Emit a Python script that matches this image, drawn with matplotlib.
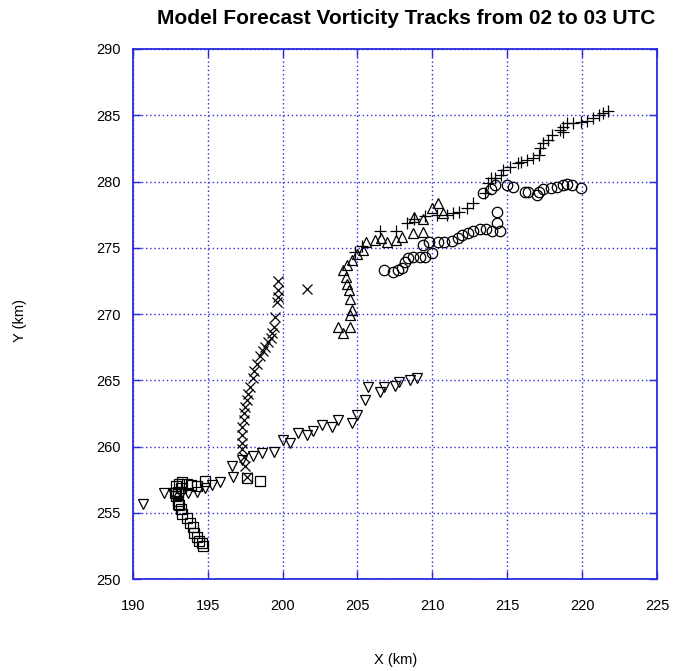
import matplotlib
matplotlib.use("Agg")
import matplotlib.pyplot as plt

title = "Model Forecast Vorticity Tracks from 02 to 03 UTC"
x_label = "X (km)"
y_label = "Y (km)"
x_ticks = [190, 195, 200, 205, 210, 215, 220, 225]
y_ticks = [250, 255, 260, 265, 270, 275, 280, 285, 290]

# Squares track
sq_x = [194.7, 194.6, 194.4, 194.3, 194.1, 194.0, 193.8, 193.6, 193.3, 193.2, 193.1, 193.0,
        192.9, 193.0, 193.2, 193.1, 192.9, 192.8, 193.0, 193.3, 193.6, 193.9, 194.3, 194.8,
        197.6, 198.5]
sq_y = [252.5, 252.7, 252.9, 253.2, 253.5, 253.9, 254.2, 254.6, 254.9, 255.3, 255.6, 255.9,
        256.3, 256.6, 256.9, 257.2, 257.0, 256.5, 255.7, 257.3, 257.2, 257.1, 257.0, 257.4,
        257.6, 257.4]

# Down-triangle track
dtri_x = [190.7, 192.1, 192.7, 193.2, 193.7, 194.3, 194.8, 195.3, 195.8, 196.7, 196.6, 197.3,
          198.0, 198.6, 199.4, 200.0, 200.5, 201.0, 201.6, 202.0, 202.6, 203.3, 203.7, 204.6,
          205.0, 205.5, 205.7, 206.5, 206.8, 207.5, 207.8, 208.5, 209.0]
dtri_y = [255.7, 256.5, 256.5, 256.4, 256.5, 256.6, 256.9, 257.1, 257.3, 257.7, 258.5, 259.0,
          259.3, 259.5, 259.6, 260.5, 260.3, 261.0, 260.9, 261.2, 261.6, 261.5, 262.0, 261.8,
          262.4, 263.5, 264.5, 264.1, 264.5, 264.6, 264.9, 265.0, 265.2]

# X-marker track
xm_x = [197.6, 197.5, 197.4, 197.3, 197.3, 197.3, 197.3, 197.4, 197.4, 197.5, 197.6, 197.7,
        197.8, 198.0, 198.1, 198.3, 198.5, 198.7, 198.8, 199.0, 199.2, 199.3, 199.4, 199.5,
        199.6, 199.7, 199.7, 199.7, 201.6]
xm_y = [257.7, 258.5, 259.2, 259.8, 260.3, 260.9, 261.5, 262.0, 262.5, 263.0, 263.5, 264.0,
        264.5, 265.2, 265.7, 266.2, 266.8, 267.2, 267.5, 267.9, 268.2, 268.6, 269.0, 269.8,
        270.9, 271.3, 271.8, 272.5, 271.9]

# Up-triangle track
utri_x = [203.7, 204.0, 204.5, 204.5, 204.6, 204.5, 204.4, 204.3, 204.2, 204.0, 204.3, 204.6,
          205.0, 205.4, 205.6, 206.2, 206.6, 207.0, 207.6, 208.0, 208.7, 209.4, 208.8, 209.4,
          210.0, 210.4, 210.7]
utri_y = [269.0, 268.6, 269.0, 269.9, 270.3, 271.1, 271.8, 272.3, 272.8, 273.3, 273.7, 274.1,
          274.5, 274.8, 275.4, 275.6, 275.7, 275.4, 275.6, 275.8, 276.1, 276.2, 277.3, 277.2,
          278.0, 278.4, 277.6]

# Plus track
pl_x = [204.8, 205.3, 206.5, 207.6, 208.3, 208.8, 209.5, 210.3, 211.0, 211.4, 211.8, 212.3,
        212.7, 213.5, 213.7, 213.9, 214.2, 214.6, 214.7, 215.2, 215.7, 215.9, 216.3, 216.7,
        217.1, 217.2, 217.4, 217.7, 218.0, 218.5, 218.7, 218.7, 219.0, 219.4, 219.9, 220.3,
        220.7, 221.1, 221.4, 221.7]
pl_y = [274.7, 275.1, 276.3, 276.3, 276.9, 277.2, 277.4, 277.5, 277.5, 277.6, 277.7, 278.0,
        278.4, 279.1, 279.9, 280.3, 280.3, 280.5, 280.9, 281.1, 281.4, 281.5, 281.6, 281.8,
        282.0, 282.5, 282.9, 283.1, 283.5, 283.9, 284.1, 283.7, 284.4, 284.4, 284.5, 284.6,
        284.8, 285.0, 285.2, 285.3]

# Circle track
ci_x = [206.8, 207.4, 207.7, 208.0, 208.2, 208.4, 208.7, 209.2, 209.5, 210.0, 209.4, 209.8,
        210.4, 210.8, 211.3, 211.7, 212.0, 212.4, 212.7, 213.2, 213.6, 214.0, 214.5, 214.3,
        214.3, 213.4, 213.9, 214.2, 215.0, 215.4, 216.2, 216.4, 217.0, 217.1, 217.4, 217.9,
        218.3, 218.7, 219.0, 219.3, 219.9]
ci_y = [273.3, 273.2, 273.3, 273.5, 273.9, 274.2, 274.3, 274.3, 274.3, 274.6, 275.2, 275.4,
        275.4, 275.4, 275.5, 275.7, 276.0, 276.1, 276.3, 276.4, 276.4, 276.3, 276.3, 277.7,
        276.9, 279.1, 279.4, 279.7, 279.7, 279.6, 279.2, 279.2, 279.0, 279.2, 279.4, 279.5,
        279.6, 279.7, 279.8, 279.7, 279.5]

blue = "#2a2ae0"
plt.rcParams['font.family'] = ['Liberation Sans', 'DejaVu Sans']

fig = plt.figure(figsize=(6.78, 6.71), dpi=100)
ax = fig.add_axes([0.196, 0.137, 0.773, 0.790])

mk = dict(linestyle='none', markerfacecolor='none', markeredgecolor='black',
          markeredgewidth=0.9, markersize=7.5)
ax.plot(sq_x, sq_y, marker='s', **mk)
ax.plot(dtri_x, dtri_y, marker='v', **mk)
ax.plot(xm_x, xm_y, marker='x', **mk)
ax.plot(utri_x, utri_y, marker='^', **mk)
ax.plot(pl_x, pl_y, marker='+', **{**mk, 'markersize': 8.5})
ax.plot(ci_x, ci_y, marker='o', **mk)

ax.set_xlim(190, 225)
ax.set_ylim(250, 290)
ax.set_xticks(x_ticks)
ax.set_yticks(y_ticks)
ax.grid(True, color=blue, linestyle=(0, (1, 2)), linewidth=1.0)
for s in ax.spines.values():
    s.set_color(blue)
    s.set_linewidth(1.3)
ax.tick_params(direction='in', length=6, color=blue, width=1.0,
               top=True, right=True, labelsize=10.5, labelcolor='black')
ax.tick_params(axis='x', pad=14)
ax.tick_params(axis='y', pad=9)

fig.text(0.599, 0.973, title, fontsize=15, fontweight='bold', ha='center', va='center')
fig.text(0.583, 0.016, x_label, fontsize=10.5, ha='center', va='center')
fig.text(0.030, 0.523, y_label, fontsize=10.5, ha='center', va='center', rotation=90)

fig.savefig("out.png", dpi=100)
